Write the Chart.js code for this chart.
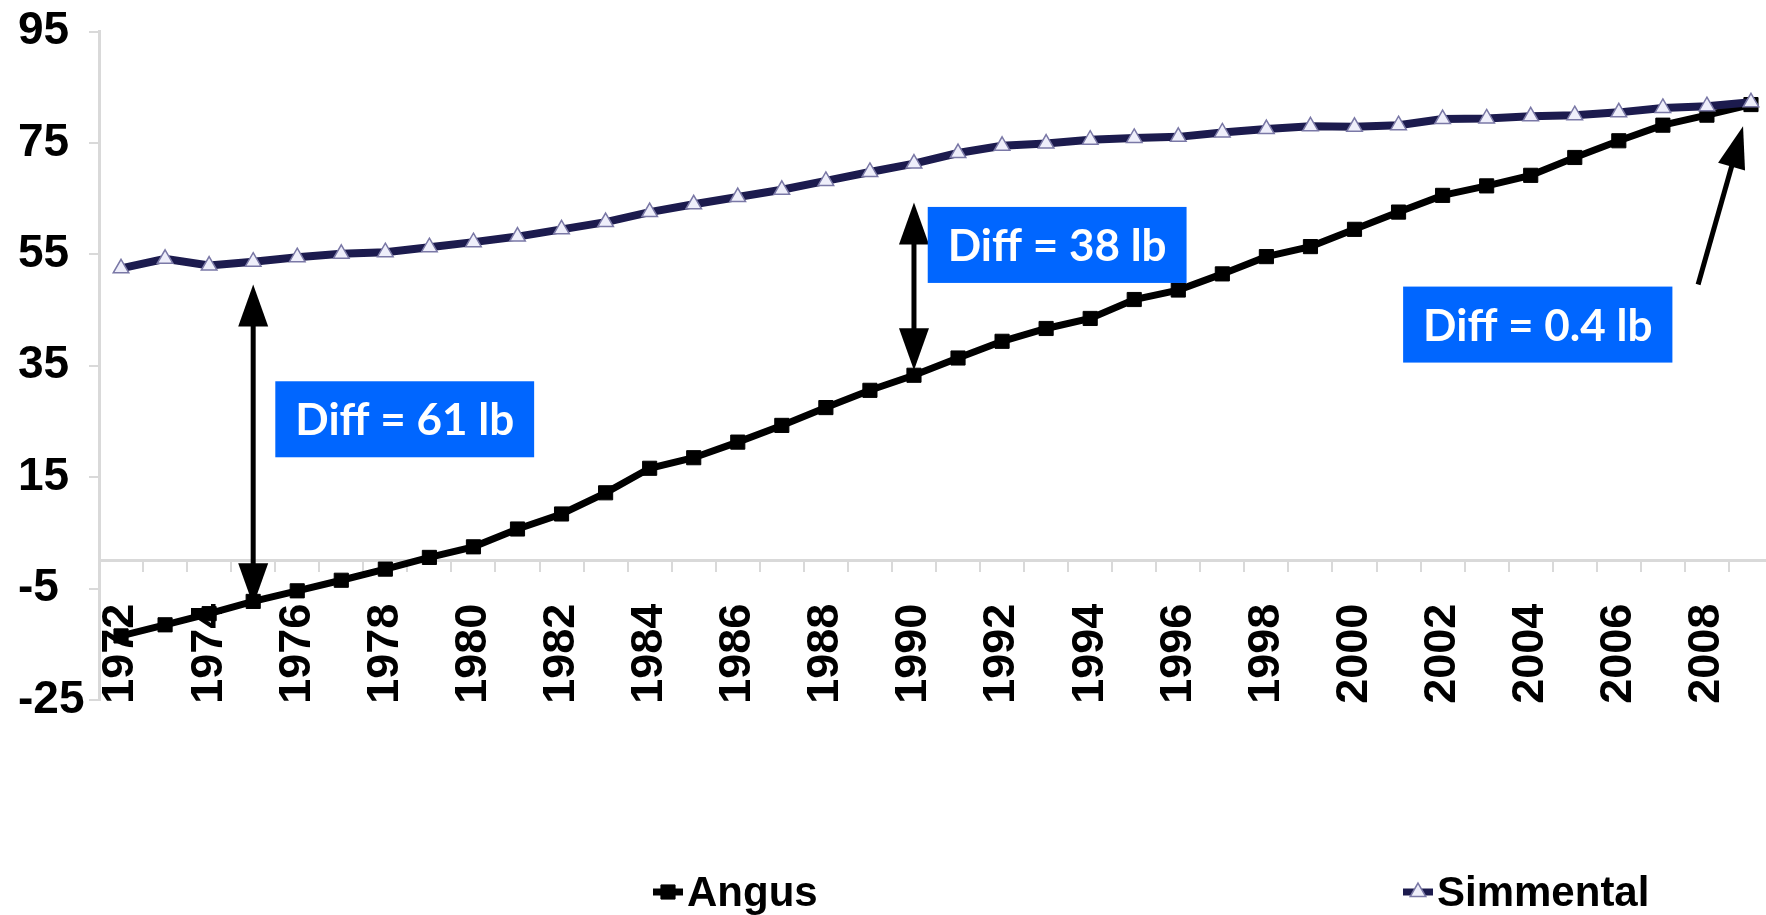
<!DOCTYPE html>
<html>
<head>
<meta charset="utf-8">
<title>Angus vs Simmental</title>
<script src="https://cdn.jsdelivr.net/npm/chart.js@4.4.1/dist/chart.umd.min.js"></script>
<style>
  html, body { margin: 0; padding: 0; background: #fff; overflow: hidden; width: 1766px; height: 915px; }
  #wrap { position: absolute; left: 0; top: 0; width: 1800px; height: 915px; }
</style>
</head>
<body>
<div id="wrap"><canvas id="c" width="1800" height="915"></canvas></div>
<script>
// Years on the category axis
const years = ['1972','1973','1974','1975','1976','1977','1978','1979','1980','1981',
               '1982','1983','1984','1985','1986','1987','1988','1989','1990','1991',
               '1992','1993','1994','1995','1996','1997','1998','1999','2000','2001',
               '2002','2003','2004','2005','2006','2007','2008','2009'];

// Breed values per year
const angus = [-13.5, -11.5, -9.5, -7.3, -5.4, -3.5, -1.5, 0.6, 2.5, 5.7,
               8.4, 12.2, 16.6, 18.5, 21.3, 24.3, 27.5, 30.6, 33.3, 36.4,
               39.4, 41.7, 43.5, 46.9, 48.6, 51.5, 54.6, 56.4, 59.5, 62.6,
               65.6, 67.3, 69.2, 72.4, 75.4, 78.2, 80.0, 81.9];
const simmental = [52.5, 54.2, 53.0, 53.7, 54.5, 55.1, 55.4, 56.3, 57.2, 58.2,
                   59.5, 60.8, 62.6, 64.0, 65.3, 66.6, 68.2, 69.8, 71.3, 73.2,
                   74.5, 74.9, 75.6, 75.9, 76.1, 76.9, 77.5, 78.0, 77.9, 78.2,
                   79.3, 79.4, 79.8, 80.0, 80.5, 81.3, 81.6, 82.3];

// Axis tick labels
const xTickLabels = ['1972','1974','1976','1978','1980','1982','1984','1986','1988','1990',
                     '1992','1994','1996','1998','2000','2002','2004','2006','2008'];
const yTicks = [-25, -5, 15, 35, 55, 75, 95];

// Difference call-outs
const diffLabels = ['Diff = 61 lb', 'Diff = 38 lb', 'Diff = 0.4 lb'];
const diffBoxCenterYear = [6.44, 21.25, 32.16];   // category index (fractional)
const diffBoxCenterValue = [25.4, 56.7, 42.4];
const bracketYears = ['1975', '1990'];
const bracketLow = [-8.0, 34.2];
const bracketHigh = [49.6, 64.3];
const pointerTail = [35.8, 49.6];                  // [category index, value]
const pointerTip = [36.82, 78.0];

const BLUE = '#0066ff';
const NAVY = '#1c1b4e';
const FONT = '"Liberation Sans", Arial, sans-serif';

function arrowHead(ctx, tx, ty, ang, len, half) {
  const c = Math.cos(ang), s = Math.sin(ang);
  const bx = tx - len * c, by = ty - len * s;
  ctx.beginPath();
  ctx.moveTo(tx, ty);
  ctx.lineTo(bx + half * s, by - half * c);
  ctx.lineTo(bx - half * s, by + half * c);
  ctx.closePath();
  ctx.fill();
}

function shaft(ctx, x1, y1, x2, y2) {
  ctx.beginPath();
  ctx.moveTo(x1, y1);
  ctx.lineTo(x2, y2);
  ctx.stroke();
}

const annotate = {
  id: 'annotate',
  afterDatasetsDraw(chart) {
    const { ctx, scales: { x, y } } = chart;
    ctx.save();
    ctx.fillStyle = '#000';
    ctx.strokeStyle = '#000';
    ctx.lineWidth = 5;
    const HL = 42, HW = 15;

    // vertical double-headed arrows between the two lines
    bracketYears.forEach((yr, i) => {
      const px = x.getPixelForValue(years.indexOf(yr));
      const yTop = y.getPixelForValue(bracketHigh[i]);
      const yBot = y.getPixelForValue(bracketLow[i]);
      shaft(ctx, px, yTop + HL - 2, px, yBot - HL + 2);
      arrowHead(ctx, px, yTop, -Math.PI / 2, HL, HW);
      arrowHead(ctx, px, yBot, Math.PI / 2, HL, HW);
    });

    // pointer arrow toward the last year
    const tx0 = x.getPixelForValue(pointerTail[0]), ty0 = y.getPixelForValue(pointerTail[1]);
    const tx1 = x.getPixelForValue(pointerTip[0]), ty1 = y.getPixelForValue(pointerTip[1]);
    const ang = Math.atan2(ty1 - ty0, tx1 - tx0);
    shaft(ctx, tx0, ty0, tx1 - (HL - 2) * Math.cos(ang), ty1 - (HL - 2) * Math.sin(ang));
    arrowHead(ctx, tx1, ty1, ang, HL, 14);

    // blue call-out boxes
    ctx.font = 'bold 44px Lato, Carlito, "Open Sans", sans-serif';
    ctx.textAlign = 'center';
    ctx.textBaseline = 'middle';
    diffLabels.forEach((txt, i) => {
      const cx = x.getPixelForValue(diffBoxCenterYear[i]);
      const cy = y.getPixelForValue(diffBoxCenterValue[i]);
      const w = ctx.measureText(txt).width + 40, h = 76;
      ctx.fillStyle = BLUE;
      ctx.fillRect(cx - w / 2, cy - h / 2, w, h);
      ctx.fillStyle = '#fff';
      ctx.fillText(txt, cx, cy + 2);
    });
    ctx.restore();
  }
};

// Legend drawn along the bottom with the series' own marker styles
const legendRow = { y: 892, items: [{ x: 653, ds: 1 }, { x: 1403, ds: 0 }] };
const bottomLegend = {
  id: 'bottomLegend',
  afterDraw(chart) {
    const { ctx } = chart;
    ctx.save();
    legendRow.items.forEach(it => {
      const ds = chart.data.datasets[it.ds];
      const mx = it.x + 15;
      ctx.strokeStyle = ds.borderColor;
      ctx.lineWidth = 7;
      shaft(ctx, it.x, legendRow.y, it.x + 30, legendRow.y);
      ctx.fillStyle = ds.pointBackgroundColor;
      ctx.strokeStyle = ds.pointBorderColor;
      ctx.lineWidth = ds.pointBorderWidth;
      Chart.helpers.drawPoint(ctx, {
        pointStyle: ds.pointStyle, radius: ds.pointRadius, borderWidth: ds.pointBorderWidth
      }, mx, legendRow.y);
      ctx.fillStyle = '#000';
      ctx.font = 'bold 42px ' + FONT;
      ctx.textAlign = 'left';
      ctx.textBaseline = 'alphabetic';
      ctx.fillText(ds.label, it.x + 34, legendRow.y + 14);
    });
    ctx.restore();
  }
};

new Chart(document.getElementById('c'), {
  type: 'line',
  data: {
    labels: years,
    datasets: [
      {
        label: 'Simmental',
        data: simmental,
        order: 0,
        borderColor: NAVY,
        borderWidth: 8,
        pointStyle: 'triangle',
        pointRadius: 9,
        pointBackgroundColor: '#eeeefa',
        pointBorderColor: '#7a78a6',
        pointBorderWidth: 1.5,
        tension: 0
      },
      {
        label: 'Angus',
        data: angus,
        order: 1,
        borderColor: '#000',
        borderWidth: 7,
        pointStyle: 'rect',
        pointRadius: 10,
        pointBackgroundColor: '#000',
        pointBorderColor: '#000',
        pointBorderWidth: 1,
        tension: 0
      }
    ]
  },
  options: {
    responsive: false,
    animation: false,
    layout: { padding: { left: 18, top: 31, right: 27, bottom: 215 } },
    plugins: { legend: { display: false }, tooltip: { enabled: false } },
    scales: {
      x: {
        type: 'category',
        position: { y: 0 },
        offset: true,
        afterFit(s) { s.paddingLeft = 0; s.paddingRight = 0; },
        grid: { offset: true, drawOnChartArea: false, drawTicks: true, tickLength: 10, color: '#d9d9d9', lineWidth: 2 },
        border: { display: true, color: '#d9d9d9', width: 3 },
        ticks: {
          autoSkip: false, minRotation: 90, maxRotation: 90, padding: 33,
          color: '#000', font: { family: FONT, size: 45, weight: 'bold' },
          callback(v) {
            const l = this.getLabelForValue(v);
            return xTickLabels.includes(l) ? l : '';
          }
        }
      },
      y: {
        min: -25, max: 95,
        afterBuildTicks(s) { s.ticks = yTicks.map(v => ({ value: v })); },
        afterFit(s) { s.width = 81; },
        grid: { drawOnChartArea: false, tickLength: 10, color: '#d9d9d9', lineWidth: 2 },
        border: { display: true, color: '#d9d9d9', width: 3 },
        ticks: { crossAlign: 'far', color: '#000', font: { family: FONT, size: 46, weight: 'bold' }, padding: 4 }
      }
    }
  },
  plugins: [annotate, bottomLegend]
});
</script>
</body>
</html>
